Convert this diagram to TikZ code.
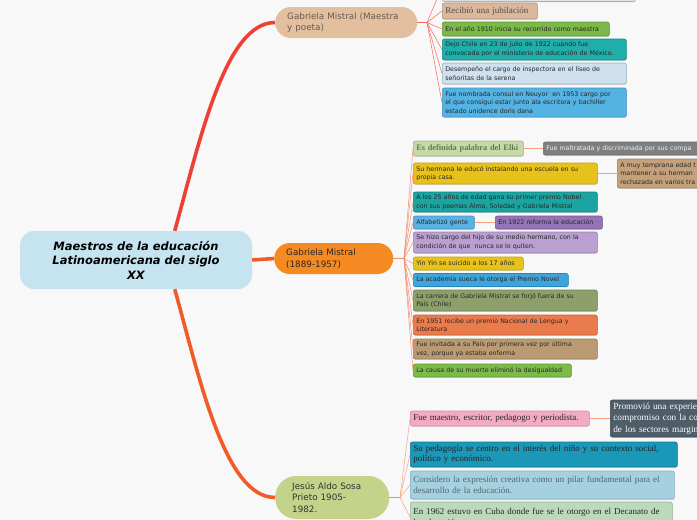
\documentclass[tikz,border=0pt]{standalone}
\usepackage{fontspec}
\newfontfamily\verd{DejaVu Sans}
\newfontfamily\tms{Liberation Serif}
\usetikzlibrary{shadows}
\definecolor{bgpage}{HTML}{F8F8F8}
\definecolor{rootblue}{HTML}{C5E4F0}
\definecolor{trunkred}{HTML}{EE4136}
\definecolor{trunkorange}{HTML}{F15A29}
\definecolor{twigred}{HTML}{F26A5C}
\definecolor{twigorange}{HTML}{F58C6E}
\definecolor{twigpeach}{HTML}{F7A07E}
\definecolor{tanpill}{HTML}{E3BF9F}
\definecolor{tantext}{HTML}{6B5B4E}
\definecolor{orangepill}{HTML}{F58A22}
\definecolor{olivepill}{HTML}{C3D38A}
\definecolor{leaftext}{HTML}{262626}
\definecolor{tanfill}{HTML}{D9B89E}
\definecolor{tanline}{HTML}{B59479}
\definecolor{tanink}{HTML}{5B4A3F}
\definecolor{greenfill}{HTML}{7DB84A}
\definecolor{greenline}{HTML}{5E9A34}
\definecolor{tealfill}{HTML}{1FAEAA}
\definecolor{tealline}{HTML}{158A87}
\definecolor{paleblue}{HTML}{CFE0EE}
\definecolor{paleline}{HTML}{9AB0C2}
\definecolor{skyfill}{HTML}{55B3E3}
\definecolor{skyline}{HTML}{3A94C4}
\definecolor{sagefill}{HTML}{C6D9A6}
\definecolor{sageline}{HTML}{9FB57F}
\definecolor{sageink}{HTML}{5E7D4E}
\definecolor{grayfill}{HTML}{7F7F7F}
\definecolor{grayline}{HTML}{6A6A6A}
\definecolor{grayink}{HTML}{F2F2F2}
\definecolor{yellowfill}{HTML}{E8C21C}
\definecolor{yellowline}{HTML}{C4A010}
\definecolor{khakifill}{HTML}{C4A17A}
\definecolor{khakiline}{HTML}{A08060}
\definecolor{teal2fill}{HTML}{1BA5A2}
\definecolor{teal2line}{HTML}{148582}
\definecolor{blue2fill}{HTML}{5AB2E2}
\definecolor{blue2line}{HTML}{3D92C2}
\definecolor{purplefill}{HTML}{9473B6}
\definecolor{purpleline}{HTML}{765896}
\definecolor{lilacfill}{HTML}{B9A0D0}
\definecolor{lilacline}{HTML}{9A80B3}
\definecolor{blue3fill}{HTML}{3DA5DC}
\definecolor{blue3line}{HTML}{2A86BA}
\definecolor{olivefill}{HTML}{8DA06C}
\definecolor{oliveline}{HTML}{6F8252}
\definecolor{coralfill}{HTML}{EA7B4D}
\definecolor{coralline}{HTML}{C85E34}
\definecolor{sandfill}{HTML}{BA9A72}
\definecolor{sandline}{HTML}{9A7C56}
\definecolor{limefill}{HTML}{7CBA4A}
\definecolor{pinkfill}{HTML}{F3AAC4}
\definecolor{pinkline}{HTML}{D88AA6}
\definecolor{slatefill}{HTML}{4E5D67}
\definecolor{slateline}{HTML}{3C4850}
\definecolor{ceruleanfill}{HTML}{1B97B8}
\definecolor{ceruleanline}{HTML}{137A96}
\definecolor{mistfill}{HTML}{A4D0E0}
\definecolor{mistline}{HTML}{80B0C4}
\definecolor{mistink}{HTML}{56666E}
\definecolor{mintfill}{HTML}{BCD9BC}
\definecolor{mintline}{HTML}{98B898}
\tikzset{
    every node/.style={font=\verd},
    root/.style={rectangle,rounded corners=14pt,fill=rootblue,minimum width=232pt,minimum height=58pt,align=center,
        font=\verd\bfseries\itshape\fontsize{11.5}{14.5}\selectfont},
    branch/.style={rectangle,rounded corners=15.5pt,anchor=west,align=left,inner xsep=12pt,inner ysep=0pt,
        font=\verd\fontsize{8.8}{11.5}\selectfont},
    leaf/.style={rectangle,rounded corners=2pt,anchor=west,align=left,draw,line width=0.6pt,inner xsep=3pt,inner ysep=0pt,
        text=leaftext,font=\verd\fontsize{6.3}{8.5}\selectfont,
        drop shadow={shadow xshift=0.5pt,shadow yshift=-0.8pt,opacity=0.22}},
    serifleaf/.style={leaf,font=\tms\fontsize{9}{10.5}\selectfont},
    trunk/.style={line width=3.6pt},
    twig/.style={line width=0.5pt}
}
\begin{document}
\begin{tikzpicture}[x=1pt,y=-1pt]
    \fill[bgpage] (0,0) rectangle (697,520);
    \useasboundingbox (0,0) rectangle (697,520);

    \node[root] (root) at (136,260) {Maestros de la educación\\Latinoamericana del siglo\\XX};
    \node[branch,fill=tanpill,text=tantext,text width=118pt,minimum height=31pt] (mistralA) at (275,22.5) {Gabriela Mistral (Maestra\\y poeta)};
    \node[branch,fill=orangepill,text=black!85,text width=95pt,minimum height=31pt] (mistralB) at (274,258.5) {Gabriela Mistral\\(1889-1957)};
    \node[branch,fill=olivepill,text=black!80,text width=80pt,inner xsep=17pt,minimum height=43pt,rounded corners=21pt] (sosa) at (275,497.5) {Jesús Aldo Sosa\\Prieto 1905-\\1982.};

    \node[leaf,fill=black!12,draw=black!30,text width=187pt,minimum height=29pt] (arriba) at (442,-13) {};
    \node[serifleaf,fill=tanfill,draw=tanline,text=tanink,text width=89pt,minimum height=16pt] (rec) at (442,11) {Recibió una jubilación};
    \node[leaf,fill=greenfill,draw=greenline,text width=161pt,minimum height=14pt] (anio) at (442,29) {En el año 1910 inicia su recorrido como maestra};
    \node[leaf,fill=tealfill,draw=tealline,text width=178pt,minimum height=21pt] (dejo) at (442,49.5) {Dejo Chile en 23 de julio de 1922 cuando fue\\convocada por el ministerio de educación de México.};
    \node[leaf,fill=paleblue,draw=paleline,text width=178pt,minimum height=21pt] (insp) at (442,73.5) {Desempeño el cargo de inspectora en el liseo de\\señoritas de la serena};
    \node[leaf,fill=skyfill,draw=skyline,text width=178pt,minimum height=29pt] (consul) at (442,102.5) {Fue nombrada consul en Neuyor\ \ en 1953 cargo por\\el que consigui estar junto ala escritora y bachiller\\estado unidence doris dana};

    \node[leaf,fill=sagefill,draw=sageline,text=sageink,font=\tms\bfseries\fontsize{8.3}{10}\selectfont,text width=104pt,minimum height=15pt] (elki) at (413,148.5) {Es definida palabra del Elki};
    \node[leaf,fill=grayfill,draw=grayline,text=grayink,text width=192pt,minimum height=13pt] (malt) at (543,148.5) {Fue maltratada y discriminada por sus compa};
    \node[leaf,fill=yellowfill,draw=yellowline,text width=178pt,minimum height=21pt] (herm) at (413,173.5) {Su hermana le educó instalando una escuela en su\\propia casa.};
    \node[leaf,fill=khakifill,draw=khakiline,text width=112pt,minimum height=29pt] (tempr) at (617,173.5) {A muy temprana edad t\\mantener a su herman\\rechazada en varios tra};
    \node[leaf,fill=teal2fill,draw=teal2line,text width=178pt,minimum height=20pt] (a25) at (413,202) {A los 25 años de edad gana su primer premio Nobel\\con sus poemas Alma, Soledad y Gabriela Mistral};
    \node[leaf,fill=blue2fill,draw=blue2line,text width=55pt,minimum height=13pt] (alfa) at (413,222.5) {Alfabetizó gente};
    \node[leaf,fill=purplefill,draw=purpleline,text width=101pt,minimum height=13pt] (ref) at (495,222.5) {En 1922 reforma la educación};
    \node[leaf,fill=lilacfill,draw=lilacline,text width=178pt,minimum height=21pt] (hijo) at (413,242.5) {Se hizo cargo del hijo de su medio hermano, con la\\condición de que\ \ nunca se lo quiten.};
    \node[leaf,fill=yellowfill,draw=yellowline,text width=104pt,minimum height=13pt] (yin) at (413,263.5) {Yin Yin se suicido a los 17 años};
    \node[leaf,fill=blue3fill,draw=blue3line,text width=149pt,minimum height=13pt] (acad) at (413,280) {La academia sueca le otorga el Premio Novel};
    \node[leaf,fill=olivefill,draw=oliveline,text width=178pt,minimum height=21pt] (carr) at (413,300.5) {La carrera de Gabriela Mistral se forjó fuera de su\\País (Chile)};
    \node[leaf,fill=coralfill,draw=coralline,text width=178pt,minimum height=20pt] (lit) at (413,325) {En 1951 recibe un premio Nacional de Lengua y\\Literatura};
    \node[leaf,fill=sandfill,draw=sandline,text width=178pt,minimum height=20pt] (invit) at (413,349) {Fue invitada a su País por primera vez por última\\vez, porque ya estaba enferma};
    \node[leaf,fill=limefill,draw=greenline,text width=152pt,minimum height=13pt] (causa) at (413,370.5) {La causa de su muerte eliminó la desigualdad};

    \node[serifleaf,fill=pinkfill,draw=pinkline,text width=173pt,minimum height=15pt] (maes) at (410,418.5) {Fue maestro, escritor, pedagogo y periodista.};
    \node[serifleaf,fill=slatefill,draw=slateline,text=white,font=\tms\fontsize{9.3}{11.5}\selectfont,text width=112pt,minimum height=37pt] (prom) at (610,418.5) {Promovió una experie\\compromiso con la co\\de los sectores margin};
    \node[serifleaf,fill=ceruleanfill,draw=ceruleanline,text width=261pt,minimum height=25pt] (peda) at (410,454.5) {Su pedagogía se centro en el interés del niño y su contexto social,\\político y económico.};
    \node[serifleaf,fill=mistfill,draw=mistline,text=mistink,text width=258pt,minimum height=28pt] (cons) at (410,485) {Considero la expresión creativa como un pilar fundamental para el\\desarrollo de la educación.};
    \node[serifleaf,fill=mintfill,draw=mintline,text width=256pt,minimum height=30pt] (cuba) at (410,517) {En 1962 estuvo en Cuba donde fue se le otorgo en el Decanato de\\la educación.};

    \draw[trunk,trunkred] (root.37) .. controls (200,140) and (225,22.5) .. (mistralA.west);
    \draw[trunk,trunkorange] (root.east) -- (mistralB.west);
    \draw[trunk,trunkorange] (root.-37) .. controls (200,380) and (225,497.5) .. (sosa.west);

    \coordinate (hubA) at (427,22.5);
    \coordinate (hubB) at (404,258.5);
    \coordinate (hubC) at (400,497.5);
    \draw[line width=1.3pt,twigred] (mistralA.east) -- (hubA);
    \draw[line width=1.3pt,twigorange] (mistralB.east) -- (hubB);
    \draw[line width=1.3pt,twigorange] (sosa.east) -- (hubC);
    \foreach \n in {arriba,rec,anio,dejo,insp,consul}
        \draw[twig,twigred] (hubA) -- (\n.west);
    \foreach \n in {elki,herm,a25,alfa,hijo,yin,acad,carr,lit,invit,causa}
        \draw[twig,twigorange] (hubB) -- (\n.west);
    \foreach \n in {maes,peda,cons,cuba}
        \draw[twig,twigpeach] (hubC) -- (\n.west);
    \draw[line width=0.8pt,twigpeach] (elki.east) -- (malt.west);
    \draw[line width=0.8pt,twigpeach] (herm.east) -- (tempr.west);
    \draw[line width=0.8pt,twigpeach] (alfa.east) -- (ref.west);
    \draw[line width=0.8pt,twigpeach] (maes.east) -- (prom.west);
\end{tikzpicture}
\end{document}
